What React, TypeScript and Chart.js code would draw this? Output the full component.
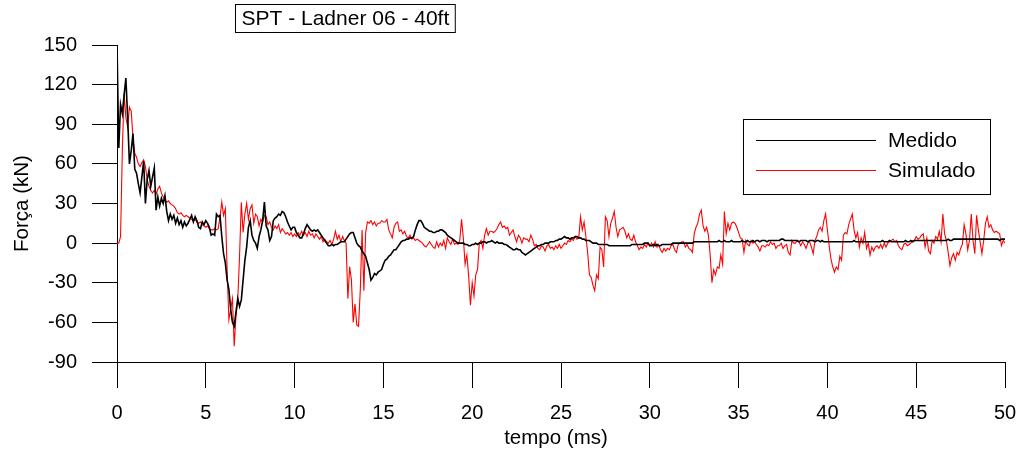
import React, { useEffect, useRef } from "react";
import { Chart, registerables } from "chart.js";

Chart.register(...registerables);

// Sampling of both records (ms between consecutive values)
const SAMPLE_STEP_MS = 0.1;
const X_MIN = 0;
const X_MAX = 50;
const X_STEP = 5;
const Y_MIN = -90;
const Y_MAX = 150;
const Y_STEP = 30;

const CHART_TITLE = "SPT - Ladner 06 - 40ft";
const X_TITLE = "tempo (ms)";
const Y_TITLE = "Força (kN)";
const SERIES_NAMES = ["Medido", "Simulado"];

// Measured force (kN), one row per millisecond (10 samples each)
const forceMedidoRows: number[][] = [
  [150, 72, 105, 98, 112, 125, 95, 60, 70, 83], // 0
  [56, 53, 45, 38, 50, 62, 30, 48, 55, 43], // 1
  [50, 57, 25, 35, 28, 34, 30, 36, 24, 17], // 2
  [22, 18, 21, 15, 19, 14, 17, 12, 16, 13], // 3
  [15, 18, 21, 16, 20, 17, 12, 11, 16, 14], // 4
  [17, 15, 12, 6, 7, 6, 22, 20, 21, 5], // 5
  [-8, -15, -28, -35, -50, -60, -63, -52, -42, -48], // 6
  [-43, -28, -13, -3, 12, 17, 6, 2, 0, -4], // 7
  [5, 10, 17, 31, 13, 10, 2, 5, 17, 19], // 8
  [20, 22, 21, 24, 23, 20, 16, 13, 10, 12], // 9
  [12, 8, 6, 4, 4, 7, 11, 14, 12, 10], // 10
  [9, 10, 9, 10, 8, 6, 4, 2, 0, -2], // 11
  [-2, -1, -2, -1, -1, 0, 1, 1, 1, 3], // 12
  [5, 7, 8, 8, 4, 0, -2, -3, -6, -8], // 13
  [-10, -15, -20, -28, -26, -23, -24, -22, -21, -20], // 14
  [-16, -13, -12, -10, -9, -7, -5, -5, -3, -1], // 15
  [1, 2, 2, 3, 3, 4, 4, 5, 10, 14], // 16
  [17, 17, 15, 12, 11, 10, 9, 9, 8, 8], // 17
  [9, 9, 10, 10, 9, 8, 6, 5, 4, 3], // 18
  [2, 1, 0, 0, 0, 0, -1, -1, -2, -2], // 19
  [-1, -1, 0, -1, 0, 0, 1, 1, 0, 1], // 20
  [1, 2, 1, 0, 1, 0, 0, 0, -1, -1], // 21
  [-2, -3, -4, -5, -5, -4, -5, -5, -7, -8], // 22
  [-9, -8, -7, -6, -5, -4, -3, -2, -2, -1], // 23
  [-1, 0, 0, 0, 1, 1, 1, 2, 2, 3], // 24
  [3, 4, 5, 4, 4, 3, 4, 4, 5, 5], // 25
  [4, 4, 3, 3, 2, 2, 2, 1, 0, 0], // 26
  [0, -1, -1, -1, -1, -1, -1, -2, -2, -2], // 27
  [-2, -2, -2, -2, -2, -2, -2, -2, -2, -2], // 28
  [-1, -1, -1, -1, -1, -1, -1, 0, 0, 0], // 29
  [-2, -2, -1, -2, -1, -2, -2, -1, -1, -1], // 30
  [-1, -1, -1, 0, 0, 0, 0, 0, 0, 0], // 31
  [0, 0, 0, 0, 0, 1, 1, 1, 1, 1], // 32
  [1, 1, 1, 1, 1, 1, 1, 1, 1, 2], // 33
  [1, 1, 2, 1, 1, 1, 2, 1, 1, 1], // 34
  [1, 1, 2, 1, 1, 2, 1, 1, 2, 1], // 35
  [2, 2, 1, 2, 2, 2, 1, 2, 2, 2], // 36
  [2, 2, 2, 2, 3, 3, 2, 2, 2, 2], // 37
  [2, 2, 2, 2, 1, 2, 2, 2, 2, 1], // 38
  [2, 2, 2, 1, 2, 2, 1, 2, 1, 1], // 39
  [1, 1, 1, 1, 1, 1, 1, 1, 1, 1], // 40
  [1, 1, 1, 1, 1, 2, 1, 1, 1, 1], // 41
  [1, 1, 1, 1, 1, 1, 1, 1, 1, 1], // 42
  [1, 2, 1, 1, 1, 2, 1, 1, 1, 1], // 43
  [1, 1, 1, 1, 2, 1, 1, 2, 1, 2], // 44
  [2, 2, 2, 2, 2, 2, 2, 2, 2, 2], // 45
  [2, 2, 2, 2, 2, 2, 2, 2, 3, 2], // 46
  [2, 3, 3, 3, 3, 3, 3, 3, 3, 3], // 47
  [3, 3, 3, 3, 3, 3, 3, 3, 3, 3], // 48
  [3, 3, 3, 3, 3, 3, 3, 2, 3, 3], // 49
  [3], // 50
];

// Simulated force (kN), one row per millisecond (10 samples each)
const forceSimuladoRows: number[][] = [
  [0, 0, 5, 70, 113, 95, 88, 103, 100, 80], // 0
  [68, 65, 60, 58, 61, 63, 58, 48, 43, 40], // 1
  [38, 40, 37, 41, 43, 38, 35, 33, 31, 32], // 2
  [30, 29, 28, 26, 23, 22, 23, 21, 20, 21], // 3
  [20, 19, 18, 17, 18, 16, 15, 16, 14, 13], // 4
  [12, 13, 11, 10, 10, 11, 10, 11, 20, 31], // 5
  [21, 26, -20, -58, -50, -42, -78, -55, -43, -10], // 6
  [31, 8, 22, 30, 18, 26, 29, 15, 22, 20], // 7
  [13, 18, 16, 21, 20, 14, 16, 12, 10, 13], // 8
  [11, 14, 8, 11, 9, 7, 8, 6, 8, 5], // 9
  [7, 5, 8, 6, 9, 6, 8, 5, 9, 6], // 10
  [7, 4, 7, 5, 3, 5, 1, 3, 1, 0], // 11
  [2, -1, 3, 9, 3, 6, 1, 5, 2, 0], // 12
  [-42, -18, -28, -60, -46, -62, -63, -35, 10, -36], // 13
  [8, 16, 15, 17, 14, 16, 13, 15, 15, 17], // 14
  [16, 16, 18, 10, 7, 4, 12, 15, 16, 9], // 15
  [10, 7, 9, 5, 4, 6, 3, 4, 2, 3], // 16
  [2, 1, 0, -2, -3, -1, 1, -1, -3, -4], // 17
  [1, -3, 0, -2, 2, -4, 4, 1, -1, 3], // 18
  [-1, 0, -1, 2, 18, 4, -16, -9, -25, -47], // 19
  [-30, -40, -24, -20, 0, 2, -4, 6, 11, 6], // 20
  [9, 9, 8, 9, 11, 14, 16, 12, 13, 11], // 21
  [12, 6, 8, 10, 5, 1, 6, 4, 0, 4], // 22
  [3, 3, 1, 6, 3, -2, -1, -4, -5, -2], // 23
  [-3, -6, -2, -1, -4, -3, -5, -2, -4, -1], // 24
  [-4, -2, 0, -1, 2, 1, 3, 2, 5, 3], // 25
  [4, 20, 10, 16, 5, -7, -24, -26, -32, -36], // 26
  [-24, -27, -3, -5, -18, 20, 17, 5, 15, 19], // 27
  [24, 12, 5, 10, 11, 12, 9, 4, 7, 3], // 28
  [2, 6, 1, -2, -5, -3, -4, -1, -3, 0], // 29
  [-2, 0, -3, 1, -3, -1, -5, -7, -4, -6], // 30
  [-4, -5, -2, -1, -5, -7, -1, 0, 1, 1], // 31
  [-3, -1, -4, -5, -7, 7, 12, 15, 22, 25], // 32
  [13, 9, 12, 6, -9, -30, -20, -24, -18, -19], // 33
  [-9, -16, 24, 7, 15, 10, 15, 16, 15, 12], // 34
  [8, 4, 3, -7, 2, -1, -2, 2, 0, 1], // 35
  [-1, -3, -6, -2, -2, -3, -1, -2, 1, -1], // 36
  [0, -4, -2, -2, 0, -4, -2, -1, -7, -9], // 37
  [2, 0, 0, 2, 1, -2, 1, -1, -4, 0], // 38
  [1, -3, -8, 2, 5, 10, 12, 9, 17, 22], // 39
  [10, -2, -12, -18, -22, -18, -20, -10, -13, 6], // 40
  [8, 7, 14, 18, 22, 10, 4, 8, -3, 4], // 41
  [0, 8, -4, 0, -9, -3, -6, -3, -2, -4], // 42
  [-1, -4, 0, -3, 0, 1, 2, 3, 1, 2], // 43
  [-2, -4, -5, -1, 0, -2, -1, 0, 2, 2], // 44
  [5, 3, 4, 6, 7, -3, 4, -6, -8, 2], // 45
  [0, 5, 3, 9, 1, 22, 7, 2, -7, -17], // 46
  [-11, -8, -13, -7, -9, -4, -1, 14, 7, -5], // 47
  [2, 22, 2, -8, 21, 10, 1, -8, 2, 15], // 48
  [20, 12, 14, 10, 8, 9, 8, 7, -2, 2], // 49
  [0], // 50
];

const forceMedido = forceMedidoRows.flat();
const forceSimulado = forceSimuladoRows.flat();

const FONT = "'Liberation Sans', Arial, Helvetica, sans-serif";

function toPoints(values: number[]) {
  return values.map((v, i) => ({ x: Math.round(i * SAMPLE_STEP_MS * 10) / 10, y: v }));
}

const decorations = {
  id: "decorations",
  afterDraw(chart: any) {
    const ctx: CanvasRenderingContext2D = chart.ctx;
    const area = chart.chartArea;
    ctx.save();
    ctx.fillStyle = "#000";
    ctx.strokeStyle = "#000";
    ctx.lineWidth = 1;

    // Title box
    ctx.font = `21px ${FONT}`;
    ctx.textAlign = "left";
    ctx.textBaseline = "middle";
    const tw = ctx.measureText(CHART_TITLE).width;
    const bx = 235.5;
    const by = 4.5;
    const bh = 28;
    ctx.strokeRect(bx, by, tw + 12, bh);
    ctx.fillText(CHART_TITLE, bx + 6, by + bh / 2 + 1);

    // Legend box
    const lx = 743.5;
    const ly = 119.5;
    ctx.strokeRect(lx, ly, 247, 75);
    const colors = ["#000000", "#ff0000"];
    const rowsY = [140.5, 170.5];
    SERIES_NAMES.forEach((name, i) => {
      ctx.beginPath();
      ctx.strokeStyle = colors[i];
      ctx.lineWidth = 1;
      ctx.moveTo(756, rowsY[i]);
      ctx.lineTo(876, rowsY[i]);
      ctx.stroke();
      ctx.fillStyle = "#000";
      ctx.font = `21px ${FONT}`;
      ctx.textAlign = "left";
      ctx.textBaseline = "middle";
      ctx.fillText(name, 888, rowsY[i] + 1);
    });

    // Axis titles
    ctx.fillStyle = "#000";
    ctx.font = `20.5px ${FONT}`;
    ctx.textAlign = "center";
    ctx.textBaseline = "middle";
    ctx.fillText(X_TITLE, 556, 438);

    ctx.save();
    ctx.translate(22, (area.top + area.bottom) / 2);
    ctx.rotate(-Math.PI / 2);
    ctx.fillText(Y_TITLE, 0, 0);
    ctx.restore();

    ctx.restore();
  },
};

export default function App() {
  const canvasRef = useRef<HTMLCanvasElement | null>(null);

  useEffect(() => {
    const canvas = canvasRef.current;
    if (!canvas) return;
    const tickFont = { family: FONT, size: 20 };
    const chart = new Chart(canvas, {
      type: "line",
      data: {
        datasets: [
          {
            label: SERIES_NAMES[0],
            data: toPoints(forceMedido),
            borderColor: "#000000",
            borderWidth: 1.6,
            pointRadius: 0,
            tension: 0,
            fill: false,
          },
          {
            label: SERIES_NAMES[1],
            data: toPoints(forceSimulado),
            borderColor: "#ff0000",
            borderWidth: 1.1,
            pointRadius: 0,
            tension: 0,
            fill: false,
          },
        ],
      },
      options: {
        responsive: false,
        animation: false,
        devicePixelRatio: 1,
        parsing: false as any,
        normalized: true,
        layout: { padding: { left: 0, top: 45, right: 16, bottom: 0 } },
        plugins: {
          legend: { display: false },
          tooltip: { enabled: false },
          title: { display: false },
        },
        scales: {
          x: {
            type: "linear",
            min: X_MIN,
            max: X_MAX,
            afterFit(scale: any) {
              scale.height = 92;
              scale.paddingLeft = 0;
              scale.paddingRight = 0;
            },
            ticks: {
              stepSize: X_STEP,
              font: tickFont,
              color: "#000",
              padding: 13,
              maxRotation: 0,
              autoSkip: false,
            },
            grid: {
              drawOnChartArea: false,
              drawTicks: true,
              tickLength: 26,
              color: "#000",
              lineWidth: 1,
            },
            border: { display: true, color: "#000", width: 1 },
          },
          y: {
            type: "linear",
            min: Y_MIN,
            max: Y_MAX,
            afterFit(scale: any) {
              scale.width = 117;
              scale.paddingTop = 0;
              scale.paddingBottom = 0;
            },
            ticks: {
              stepSize: Y_STEP,
              font: tickFont,
              color: "#000",
              padding: 15,
              autoSkip: false,
            },
            grid: {
              drawOnChartArea: false,
              drawTicks: true,
              tickLength: 25,
              color: "#000",
              lineWidth: 1,
            },
            border: { display: true, color: "#000", width: 1 },
          },
        },
      },
      plugins: [decorations],
    });
    return () => chart.destroy();
  }, []);

  return (
    <div style={{ position: "absolute", left: 0, top: 0, width: 1021, height: 454, background: "#fff" }}>
      <canvas ref={canvasRef} width={1021} height={454} style={{ display: "block" }} />
    </div>
  );
}
